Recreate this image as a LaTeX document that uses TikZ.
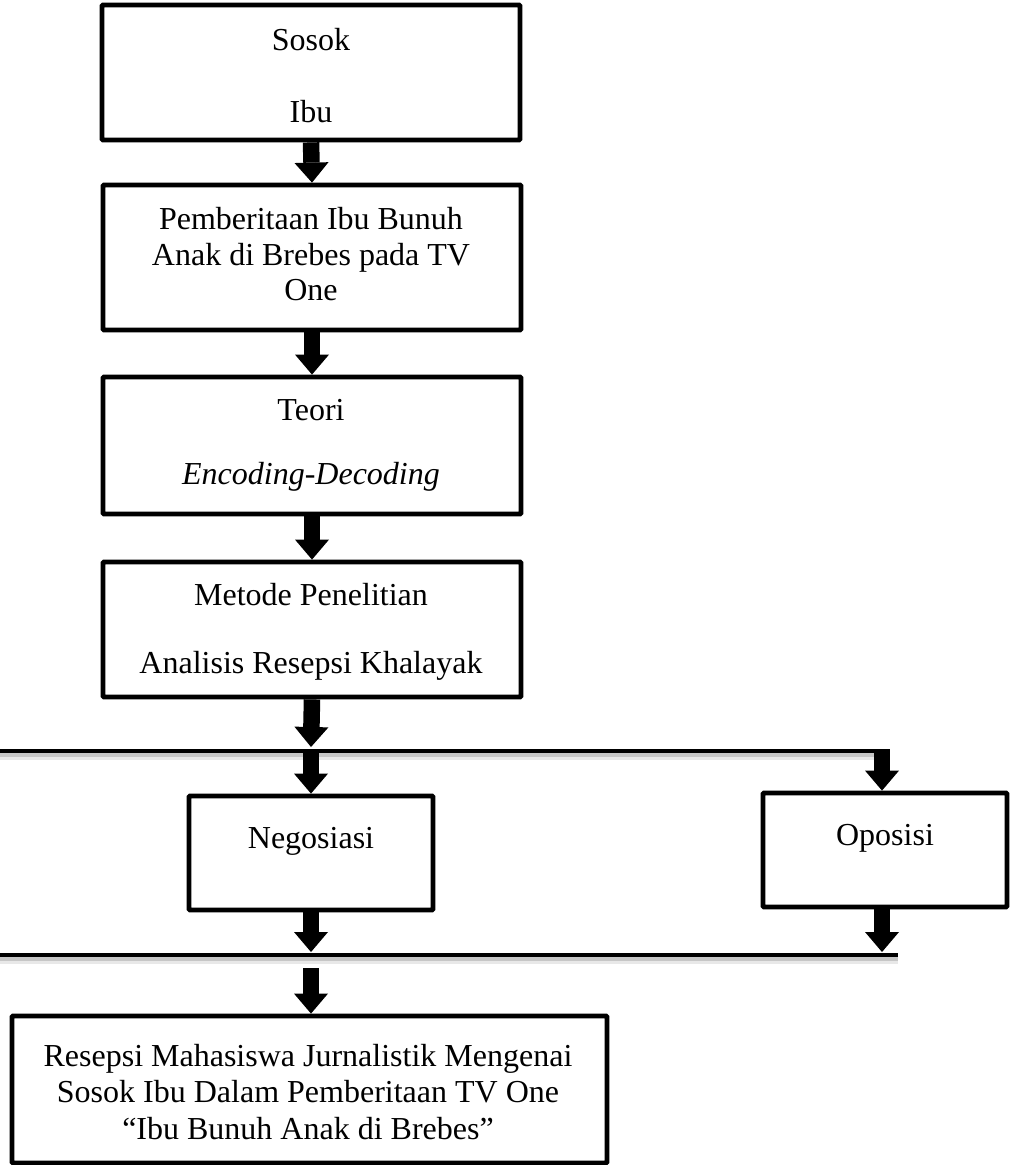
\documentclass[tikz,border=0pt]{standalone}
\usepackage{fontspec}
\setmainfont{Liberation Serif}
\usetikzlibrary{arrows.meta}
\tikzset{
  box/.style={draw, line width=4.8pt, rounded corners=1pt, inner sep=0pt, fill=white},
  txt/.style={anchor=base, inner sep=0pt, font=\fontsize{32}{36.8}\selectfont},
  blk/.style={line width=16.5pt, -{Triangle[width=34pt,length=20pt,line width=0pt]}},
  rule/.style={line width=4.8pt},
  ruleshadow/.style={line width=3.5pt, draw=gray!45},
  ruleshadowb/.style={line width=3pt, draw=gray!18}
}
\begin{document}
\begin{tikzpicture}[x=1pt,y=-1pt]
\useasboundingbox (0,0) rectangle (1013,1165);
% boxes
\node[box, minimum width=418pt, minimum height=135pt] (b1) at (311,72.5) {};
\node[box, minimum width=418pt, minimum height=145pt] (b2) at (312,257.5) {};
\node[box, minimum width=418pt, minimum height=137pt] (b3) at (312,445.5) {};
\node[box, minimum width=418pt, minimum height=135pt] (b4) at (312,629.5) {};
\node[box, minimum width=244pt, minimum height=114pt] (neg) at (311,853) {};
\node[box, minimum width=244pt, minimum height=114pt] (opo) at (885,850) {};
\node[box, minimum width=595pt, minimum height=147pt] (res) at (309.5,1089.5) {};
% texts
\node[txt] (t1a) at (311,50) {Sosok};
\node[txt] (t1b) at (311,122) {Ibu};
\node[txt] (t2a) at (311,229) {Pemberitaan Ibu Bunuh};
\node[txt] (t2b) at (311,265) {Anak di Brebes pada TV};
\node[txt] (t2c) at (311,300) {One};
\node[txt] (t3a) at (311,420) {Teori};
\node[txt] (t3b) at (311,484) {\itshape Encoding-Decoding};
\node[txt] (t4a) at (311,605) {Metode Penelitian};
\node[txt] (t4b) at (311,673) {Analisis Resepsi Khalayak};
\node[txt] (tneg) at (311,848) {Negosiasi};
\node[txt] (topo) at (885,845) {Oposisi};
\node[txt] (tra) at (308,1066) {Resepsi Mahasiswa Jurnalistik Mengenai};
\node[txt] (trb) at (308,1102) {Sosok Ibu Dalam Pemberitaan TV One};
\node[txt] (trc) at (308,1139) {``Ibu Bunuh Anak di Brebes''};
% horizontal rules
\coordinate (l1w) at (0,751);
\coordinate (l1e) at (890,751);
\coordinate (l2w) at (0,955);
\coordinate (l2e) at (898,955);
\draw[ruleshadowb] ([yshift=-7pt]l1w) -- ([yshift=-7pt]l1e);
\draw[ruleshadow] ([yshift=-4pt]l1w) -- ([yshift=-4pt]l1e);
\draw[rule] (l1w) -- (l1e);
\draw[ruleshadowb] ([yshift=-7pt]l2w) -- ([yshift=-7pt]l2e);
\draw[ruleshadow] ([yshift=-4pt]l2w) -- ([yshift=-4pt]l2e);
\draw[rule] (l2w) -- (l2e);
% arrow coordinates
\coordinate (a4e) at (311,747);
\coordinate (a5s) at (311,749);
\coordinate (a6s) at (882,749);
\coordinate (a7e) at (311,952);
\coordinate (a8e) at (882,952);
\coordinate (a9s) at (311,968);
% arrows
\draw[blk] (b1.south) -- (b2.north);
\draw[blk] (b2.south) -- (b3.north);
\draw[blk] (b3.south) -- (b4.north);
\draw[blk] (b4.south) -- (a4e);
\draw[blk] (a5s) -- (neg.north);
\draw[blk] (a6s) -- (opo.north -| a6s);
\draw[blk] (neg.south) -- (a7e);
\draw[blk] (opo.south -| a8e) -- (a8e);
\draw[blk] (a9s) -- (res.north -| a9s);
\end{tikzpicture}
\end{document}
